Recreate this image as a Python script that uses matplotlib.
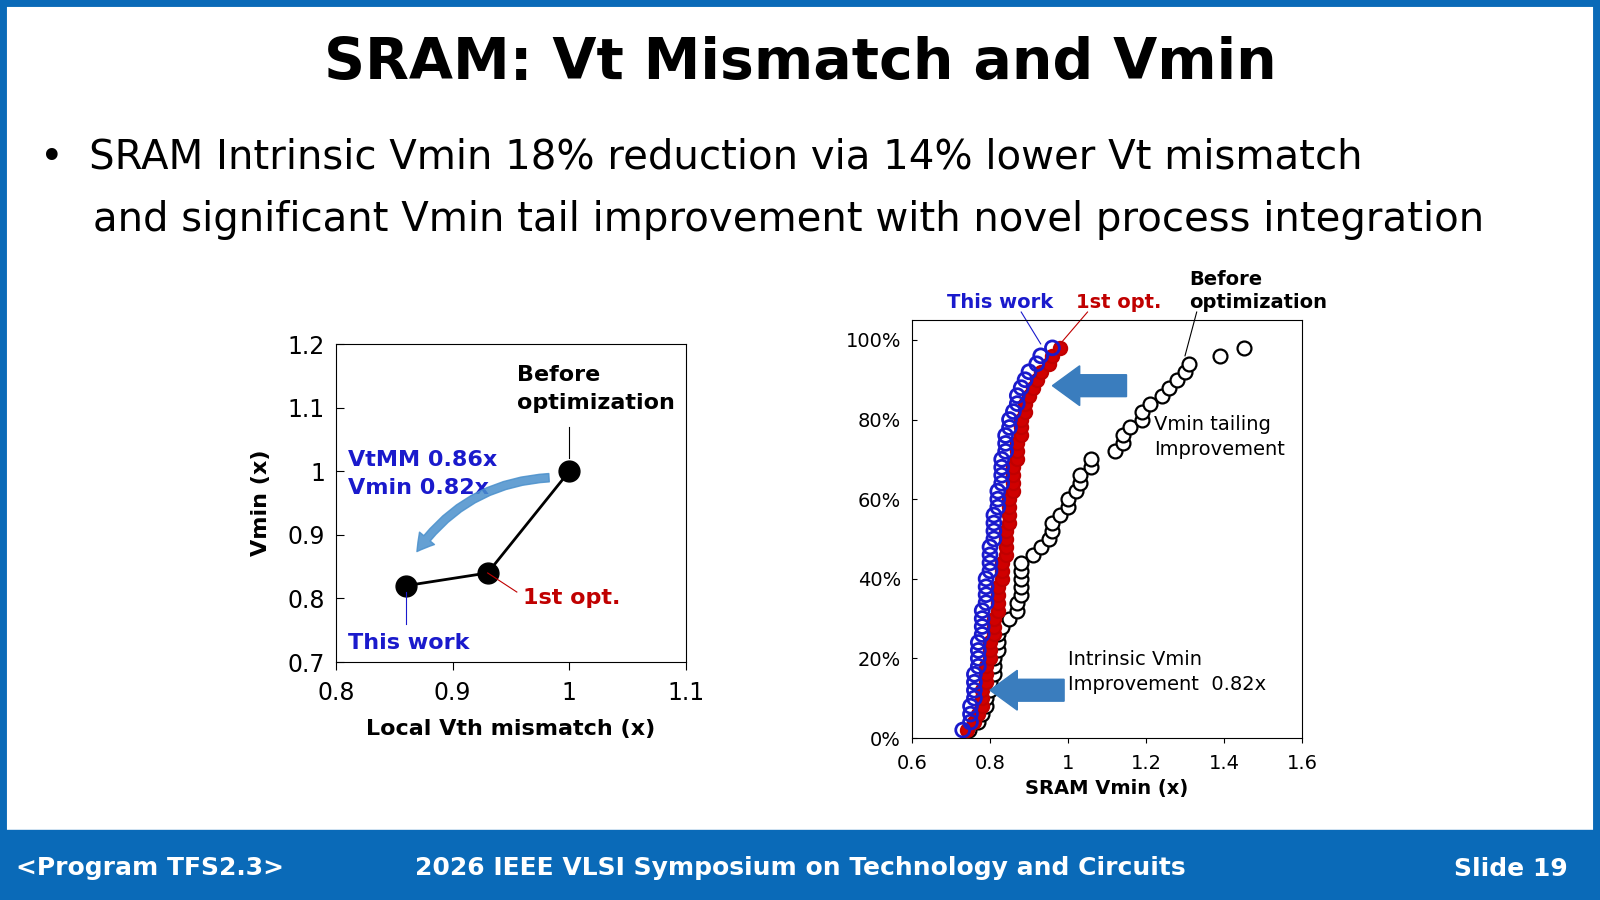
import matplotlib.pyplot as plt
from matplotlib.patches import Rectangle, FancyArrow

# left chart
mm_x = [0.86, 0.93, 1.0]
vmin_y = [0.82, 0.84, 1.0]

# right chart: cumulative percent and Vmin
pct = [2, 4, 6, 8, 10, 12, 14, 16, 18, 20, 22, 24, 26, 28, 30, 32, 34, 36, 38, 40,
       42, 44, 46, 48, 50, 52, 54, 56, 58, 60, 62, 64, 66, 68, 70, 72, 74, 76, 78, 80,
       82, 84, 86, 88, 90, 92, 94, 96, 98]
before = [0.745, 0.77, 0.78, 0.79, 0.79, 0.80, 0.80, 0.81, 0.81, 0.81, 0.82, 0.82, 0.82,
          0.83, 0.85, 0.87, 0.87, 0.88, 0.88, 0.88, 0.88, 0.88, 0.91, 0.93, 0.95, 0.96,
          0.96, 0.98, 1.00, 1.00, 1.02, 1.03, 1.03, 1.06, 1.06, 1.12, 1.14, 1.14, 1.16,
          1.19, 1.19, 1.21, 1.24, 1.26, 1.28, 1.30, 1.31, 1.39, 1.45]
opt1 = [0.74, 0.76, 0.77, 0.78, 0.78, 0.78, 0.79, 0.79, 0.79, 0.80, 0.80, 0.80, 0.81,
        0.81, 0.81, 0.82, 0.82, 0.82, 0.82, 0.83, 0.83, 0.83, 0.84, 0.84, 0.84, 0.84,
        0.85, 0.85, 0.85, 0.85, 0.86, 0.86, 0.86, 0.86, 0.87, 0.87, 0.87, 0.88, 0.88,
        0.88, 0.89, 0.89, 0.90, 0.91, 0.92, 0.93, 0.95, 0.96, 0.98]
this_work = [0.73, 0.75, 0.75, 0.75, 0.76, 0.76, 0.76, 0.76, 0.77, 0.77, 0.77, 0.77,
             0.78, 0.78, 0.78, 0.78, 0.79, 0.79, 0.79, 0.79, 0.80, 0.80, 0.80, 0.80,
             0.81, 0.81, 0.81, 0.81, 0.82, 0.82, 0.82, 0.83, 0.83, 0.83, 0.83, 0.84,
             0.84, 0.84, 0.85, 0.85, 0.86, 0.87, 0.87, 0.88, 0.89, 0.90, 0.92, 0.93, 0.96]

BLUE = '#0a6ab8'
fig = plt.figure(figsize=(16, 9), dpi=100)
fig.patch.set_facecolor('white')
fig.add_artist(Rectangle((0, 0), 1, 1, transform=fig.transFigure, fill=False,
                         edgecolor=BLUE, linewidth=10))
fig.add_artist(Rectangle((0, 0), 1, 0.078, transform=fig.transFigure, color=BLUE))
fig.text(0.5, 0.93, 'SRAM: Vt Mismatch and Vmin', ha='center', va='center',
         fontsize=41, fontweight='bold')
fig.text(0.025, 0.825, '•  SRAM Intrinsic Vmin 18% reduction via 14% lower Vt mismatch',
         fontsize=29, va='center')
fig.text(0.058, 0.755, 'and significant Vmin tail improvement with novel process integration',
         fontsize=29, va='center')
fig.text(0.01, 0.035, '<Program TFS2.3>', color='white', fontsize=18, va='center', fontweight='bold')
fig.text(0.5, 0.035, '2026 IEEE VLSI Symposium on Technology and Circuits', color='white',
         fontsize=18, va='center', ha='center', fontweight='bold')
fig.text(0.98, 0.035, 'Slide 19', color='white', fontsize=18, va='center', ha='right', fontweight='bold')

# left axes
ax = fig.add_axes([336/1600, 1-662/900, 350/1600, 318/900])
ax.plot(mm_x, vmin_y, color='black', lw=2, marker='o', ms=15)
ax.set_xlim(0.8, 1.1)
ax.set_ylim(0.7, 1.2)
ax.set_xticks([0.8, 0.9, 1.0, 1.1], ['0.8', '0.9', '1', '1.1'])
ax.set_yticks([0.7, 0.8, 0.9, 1.0, 1.1, 1.2], ['0.7', '0.8', '0.9', '1', '1.1', '1.2'])
ax.tick_params(labelsize=17, direction='in', length=6, pad=8)
ax.tick_params(axis='x', direction='out')
ax.set_xlabel('Local Vth mismatch (x)', fontsize=16, fontweight='bold', labelpad=10)
ax.set_ylabel('Vmin (x)', fontsize=16, fontweight='bold', labelpad=12)
ax.text(0.955, 1.13, 'Before\noptimization', fontsize=16, fontweight='bold', ha='left', va='center', linespacing=1.5)
ax.plot([1.0, 1.0], [1.02, 1.07], color='black', lw=0.8)
ax.text(0.81, 0.995, 'VtMM 0.86x\nVmin 0.82x', color='#1a1acc', fontsize=16,
        fontweight='bold', va='center', linespacing=1.5)
ax.text(0.96, 0.80, '1st opt.', color='#c00000', fontsize=16, fontweight='bold', va='center')
ax.plot([0.93, 0.955], [0.84, 0.81], color='#c00000', lw=0.8)
ax.text(0.81, 0.73, 'This work', color='#1a1acc', fontsize=16, fontweight='bold', va='center')
ax.plot([0.86, 0.86], [0.81, 0.76], color='#1a1acc', lw=0.8)
ax.annotate('', xy=(0.868, 0.87), xytext=(0.985, 0.99),
            arrowprops=dict(arrowstyle='simple,head_width=1.4,head_length=1.2,tail_width=0.6',
                            connectionstyle='arc3,rad=0.25', color='#4a90cc', alpha=0.85))

# right axes
ax2 = fig.add_axes([912/1600, 1-738/900, 390/1600, 418/900])
ax2.scatter(before, [p/100 for p in pct], s=100, facecolors='white', edgecolors='black', lw=1.6, zorder=2)
ax2.scatter(opt1, [p/100 for p in pct], s=90, facecolors='#d00000', edgecolors='#c00000', lw=1.6, zorder=3)
ax2.scatter(this_work, [p/100 for p in pct], s=100, facecolors='none', edgecolors='#1a1acc', lw=2, zorder=4)
ax2.set_xlim(0.6, 1.6)
ax2.set_ylim(0, 1.05)
ax2.set_yticks([0, 0.2, 0.4, 0.6, 0.8, 1.0], ['0%', '20%', '40%', '60%', '80%', '100%'])
ax2.set_xticks([0.6, 0.8, 1.0, 1.2, 1.4, 1.6], ['0.6', '0.8', '1', '1.2', '1.4', '1.6'])
ax2.tick_params(labelsize=14, direction='in', pad=8)
ax2.tick_params(axis='x', direction='out')
ax2.set_xlabel('SRAM Vmin (x)', fontsize=14, fontweight='bold')
ax2.add_patch(FancyArrow(1.15, 0.885, -0.12, 0, width=0.055, head_width=0.1, head_length=0.07,
                         color='#3a7dbe', zorder=5))
ax2.add_patch(FancyArrow(0.99, 0.12, -0.12, 0, width=0.055, head_width=0.1, head_length=0.07,
                         color='#3a7dbe', zorder=5))
ax2.text(1.22, 0.70, 'Vmin tailing\nImprovement', fontsize=14, va='bottom', linespacing=1.4)
ax2.text(1.0, 0.11, 'Intrinsic Vmin\nImprovement  0.82x', fontsize=14, va='bottom', linespacing=1.4)
ax2.text(0.69, 1.08, 'This work', color='#1a1acc', fontsize=14, fontweight='bold', clip_on=False)
ax2.text(1.02, 1.08, '1st opt.', color='#c00000', fontsize=14, fontweight='bold', clip_on=False)
ax2.text(1.31, 1.08, 'Before\noptimization', fontsize=14, fontweight='bold', clip_on=False, linespacing=1.3)
ax2.plot([0.88, 0.93], [1.07, 0.99], color='#1a1acc', lw=0.8, clip_on=False)
ax2.plot([1.05, 0.98], [1.07, 0.99], color='#c00000', lw=0.8, clip_on=False)
ax2.plot([1.33, 1.30], [1.07, 0.96], color='black', lw=0.8, clip_on=False)

fig.savefig('out.png', dpi=100)
